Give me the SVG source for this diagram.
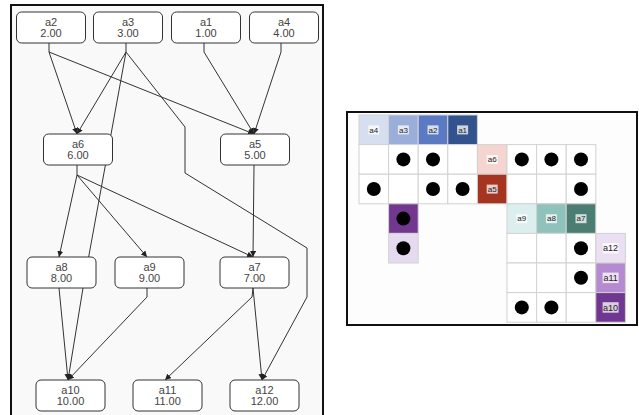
<svg xmlns="http://www.w3.org/2000/svg" width="639" height="415" viewBox="0 0 639 415">
<defs>
<style>
.panel{fill:#f9f9f9;stroke:#111;stroke-width:2}
.node rect{fill:#fff;stroke:#333;stroke-width:1}
.node text{font-family:"Liberation Sans",Arial,sans-serif;font-size:11px;fill:#444;text-anchor:middle}
.edge{fill:none;stroke:#333;stroke-width:1;marker-end:url(#arr)}
.line{fill:none;stroke:#333;stroke-width:1}
.cell{stroke:#d2d2d2;stroke-width:1}
.lbl{font-family:"Liberation Sans",Arial,sans-serif;font-size:8px;fill:#222;text-anchor:middle}
.lblbg{fill:#fff;opacity:0.75}
.dot{fill:#000}
</style>
<marker id="arr" markerUnits="userSpaceOnUse" markerWidth="7" markerHeight="7" refX="6" refY="3" orient="auto">
<path d="M0,0 L6,3 L0,6 z" fill="#222"/>
</marker>
</defs>

<rect class="panel" x="11" y="5" width="312" height="420"/>

<g id="connectors">
<path class="line" d="M49,43 L49,52"/>
<path class="edge" d="M49,52 L77,134"/>
<path class="edge" d="M49,52 L254,134"/>
<path class="line" d="M126,43 L126,52"/>
<path class="edge" d="M126,52 L77,134"/>
<path class="edge" d="M126,52 L83,288 L68,380"/>
<path class="edge" d="M126,52 L185,127 L185,173 L307,248 L307,297 L262,380"/>
<path class="line" d="M204,43 L204,52"/>
<path class="edge" d="M204,52 L254,134"/>
<path class="line" d="M281,43 L281,52"/>
<path class="edge" d="M281,52 L254,134"/>
<path class="line" d="M77,165 L77,175"/>
<path class="edge" d="M77,175 L59,257"/>
<path class="edge" d="M77,175 L147,257"/>
<path class="edge" d="M77,175 L253,257"/>
<path class="edge" d="M254,165 L253,257"/>
<path class="edge" d="M59,288 L68,380"/>
<path class="edge" d="M147,288 L147,297 L68,380"/>
<path class="edge" d="M253,288 L252,297 L165,380"/>
<path class="edge" d="M253,288 L262,380"/>
</g>

<g id="a2" class="node"><rect x="16.5" y="12" width="69" height="31" rx="5"/><text x="51" y="26">a2</text><text x="51" y="37">2.00</text></g>
<g id="a3" class="node"><rect x="93.5" y="12" width="69" height="31" rx="5"/><text x="128" y="26">a3</text><text x="128" y="37">3.00</text></g>
<g id="a1" class="node"><rect x="171.5" y="12" width="69" height="31" rx="5"/><text x="206" y="26">a1</text><text x="206" y="37">1.00</text></g>
<g id="a4" class="node"><rect x="249.5" y="12" width="69" height="31" rx="5"/><text x="284" y="26">a4</text><text x="284" y="37">4.00</text></g>
<g id="a6" class="node"><rect x="43.5" y="134" width="69" height="31" rx="5"/><text x="78" y="148">a6</text><text x="78" y="159">6.00</text></g>
<g id="a5" class="node"><rect x="220.5" y="134" width="69" height="31" rx="5"/><text x="255" y="148">a5</text><text x="255" y="159">5.00</text></g>
<g id="a8" class="node"><rect x="27" y="257" width="69" height="31" rx="5"/><text x="61.5" y="271">a8</text><text x="61.5" y="282">8.00</text></g>
<g id="a9" class="node"><rect x="115" y="257" width="69" height="31" rx="5"/><text x="149.5" y="271">a9</text><text x="149.5" y="282">9.00</text></g>
<g id="a7" class="node"><rect x="220" y="257" width="69" height="31" rx="5"/><text x="254.5" y="271">a7</text><text x="254.5" y="282">7.00</text></g>
<g id="a10" class="node"><rect x="36" y="380" width="69" height="31" rx="5"/><text x="70.5" y="394">a10</text><text x="70.5" y="405">10.00</text></g>
<g id="a11" class="node"><rect x="133" y="380" width="69" height="31" rx="5"/><text x="167.5" y="394">a11</text><text x="167.5" y="405">11.00</text></g>
<g id="a12" class="node"><rect x="230" y="380" width="69" height="31" rx="5"/><text x="264.5" y="394">a12</text><text x="264.5" y="405">12.00</text></g>

<g id="matrix">
<rect x="347" y="112" width="290" height="213" fill="#fdfdfd" stroke="#111" stroke-width="2"/>
<!-- row 0 -->
<rect class="cell" x="359" y="115" width="29.6" height="29.6" fill="#d6dff0"/>
<rect class="cell" x="388.6" y="115" width="29.6" height="29.6" fill="#9badd9"/>
<rect class="cell" x="418.2" y="115" width="29.6" height="29.6" fill="#5a7ac3"/>
<rect class="cell" x="447.8" y="115" width="29.6" height="29.6" fill="#33538f"/>
<!-- row 1 -->
<rect class="cell" x="359" y="144.6" width="29.6" height="29.6" fill="#fff"/>
<rect class="cell" x="388.6" y="144.6" width="29.6" height="29.6" fill="#fff"/>
<rect class="cell" x="418.2" y="144.6" width="29.6" height="29.6" fill="#fff"/>
<rect class="cell" x="447.8" y="144.6" width="29.6" height="29.6" fill="#fff"/>
<rect class="cell" x="477.4" y="144.6" width="29.6" height="29.6" fill="#f5d5cf"/>
<rect class="cell" x="507" y="144.6" width="29.6" height="29.6" fill="#fff"/>
<rect class="cell" x="536.6" y="144.6" width="29.6" height="29.6" fill="#fff"/>
<rect class="cell" x="566.2" y="144.6" width="29.6" height="29.6" fill="#fff"/>
<!-- row 2 -->
<rect class="cell" x="359" y="174.2" width="29.6" height="29.6" fill="#fff"/>
<rect class="cell" x="388.6" y="174.2" width="29.6" height="29.6" fill="#fff"/>
<rect class="cell" x="418.2" y="174.2" width="29.6" height="29.6" fill="#fff"/>
<rect class="cell" x="447.8" y="174.2" width="29.6" height="29.6" fill="#fff"/>
<rect class="cell" x="477.4" y="174.2" width="29.6" height="29.6" fill="#a53421"/>
<rect class="cell" x="507" y="174.2" width="29.6" height="29.6" fill="#fff"/>
<rect class="cell" x="536.6" y="174.2" width="29.6" height="29.6" fill="#fff"/>
<rect class="cell" x="566.2" y="174.2" width="29.6" height="29.6" fill="#fff"/>
<!-- row 3 -->
<rect class="cell" x="388.6" y="203.8" width="29.6" height="29.6" fill="#72378f"/>
<rect class="cell" x="507" y="203.8" width="29.6" height="29.6" fill="#dcefee"/>
<rect class="cell" x="536.6" y="203.8" width="29.6" height="29.6" fill="#90c2bc"/>
<rect class="cell" x="566.2" y="203.8" width="29.6" height="29.6" fill="#4b7d73"/>
<!-- row 4 -->
<rect class="cell" x="388.6" y="233.4" width="29.6" height="29.6" fill="#e6daf0"/>
<rect class="cell" x="507" y="233.4" width="29.6" height="29.6" fill="#fff"/>
<rect class="cell" x="536.6" y="233.4" width="29.6" height="29.6" fill="#fff"/>
<rect class="cell" x="566.2" y="233.4" width="29.6" height="29.6" fill="#fff"/>
<rect class="cell" x="595.8" y="233.4" width="29.6" height="29.6" fill="#ebdff2"/>
<!-- row 5 -->
<rect class="cell" x="507" y="263" width="29.6" height="29.6" fill="#fff"/>
<rect class="cell" x="536.6" y="263" width="29.6" height="29.6" fill="#fff"/>
<rect class="cell" x="566.2" y="263" width="29.6" height="29.6" fill="#fff"/>
<rect class="cell" x="595.8" y="263" width="29.6" height="29.6" fill="#b68ad0"/>
<!-- row 6 -->
<rect class="cell" x="507" y="292.6" width="29.6" height="29.6" fill="#fff"/>
<rect class="cell" x="536.6" y="292.6" width="29.6" height="29.6" fill="#fff"/>
<rect class="cell" x="566.2" y="292.6" width="29.6" height="29.6" fill="#fff"/>
<rect class="cell" x="595.8" y="292.6" width="29.6" height="29.6" fill="#6f3791"/>

<!-- dots -->
<circle class="dot" cx="403.4" cy="159.4" r="7"/>
<circle class="dot" cx="433" cy="159.4" r="7"/>
<circle class="dot" cx="521.8" cy="159.4" r="7"/>
<circle class="dot" cx="551.4" cy="159.4" r="7"/>
<circle class="dot" cx="581" cy="159.4" r="7"/>
<circle class="dot" cx="373.8" cy="189" r="7"/>
<circle class="dot" cx="433" cy="189" r="7"/>
<circle class="dot" cx="462.6" cy="189" r="7"/>
<circle class="dot" cx="581" cy="189" r="7"/>
<circle class="dot" cx="403.4" cy="218.6" r="7"/>
<circle class="dot" cx="403.4" cy="248.2" r="7"/>
<circle class="dot" cx="581" cy="248.2" r="7"/>
<circle class="dot" cx="581" cy="277.8" r="7"/>
<circle class="dot" cx="521.8" cy="307.4" r="7"/>
<circle class="dot" cx="551.4" cy="307.4" r="7"/>

<!-- labels -->
<rect class="lblbg" x="368.3" y="125.4" width="11" height="9"/><text class="lbl" x="373.8" y="132.6">a4</text>
<rect class="lblbg" x="397.9" y="125.4" width="11" height="9"/><text class="lbl" x="403.4" y="132.6">a3</text>
<rect class="lblbg" x="427.5" y="125.4" width="11" height="9"/><text class="lbl" x="433" y="132.6">a2</text>
<rect class="lblbg" x="457.1" y="125.4" width="11" height="9"/><text class="lbl" x="462.6" y="132.6">a1</text>
<rect class="lblbg" x="486.7" y="155" width="11" height="9"/><text class="lbl" x="492.2" y="162.2">a6</text>
<rect class="lblbg" x="486.7" y="184.6" width="11" height="9"/><text class="lbl" x="492.2" y="191.8">a5</text>
<rect class="lblbg" x="516.3" y="214.2" width="11" height="9"/><text class="lbl" x="521.8" y="221.4">a9</text>
<rect class="lblbg" x="545.9" y="214.2" width="11" height="9"/><text class="lbl" x="551.4" y="221.4">a8</text>
<rect class="lblbg" x="575.5" y="214.2" width="11" height="9"/><text class="lbl" x="581" y="221.4">a7</text>
<rect class="lblbg" x="602.6" y="243" width="16" height="10.5"/><text class="lbl" x="610.6" y="251.4" style="font-size:9px">a12</text>
<rect class="lblbg" x="602.6" y="272.6" width="16" height="10.5"/><text class="lbl" x="610.6" y="281" style="font-size:9px">a11</text>
<rect class="lblbg" x="602.6" y="302.2" width="16" height="10.5"/><text class="lbl" x="610.6" y="310.6" style="font-size:9px">a10</text>
</g>
</svg>
